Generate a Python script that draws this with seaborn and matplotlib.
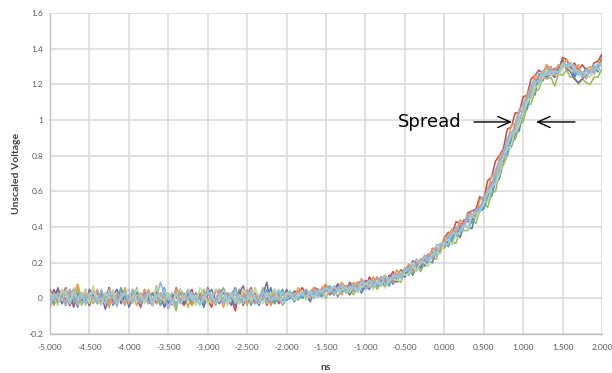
import numpy as np
import pandas as pd
import matplotlib
matplotlib.use("Agg")
import matplotlib.pyplot as plt
import seaborn as sns

# sample times (ns), 0.05 ns step
time_ns = np.round(np.linspace(-5.0, 2.0, 141), 2)

# traces in hundredths of a volt: first 61 samples -5.00..-2.00, then -1.95..2.00
trace_01 = [5,-3,6,-1,3,-4,2,-5,3,0, -4,5,-1,3,-3,6,-4,2,-1,5, -5,0,3,-3,5,-1,-4,3,0,6,
            -3,2,-4,3,-1,5,-3,0,3,-5, 2,5,-1,-3,3,0,-4,6,-1,2, -3,5,0,-4,3,-1,6,-3,2,-1, 3,
            2,-2,4,0,2,-2,4,2,1,6, 2,5,1,5,7,2,5,7,3,7, 5,10,7,10,6,13,10,9,15,12,
            17,13,18,21,18,21,20,27,26,33, 29,34,38,34,41,40,39,48,49,50,
            57,57,66,67,77,86,85,92,94,104, 106,115,114,125,122,128,130,124,128,134,
            128,132,124,128,124,129,126,130,127,136]
trace_02 = [-1,5,-3,2,6,-4,0,3,-1,5, -4,2,3,-3,0,6,-1,-4,3,2, -3,5,0,-5,3,2,-4,5,-1,0,
            3,-3,6,-1,-4,2,5,-3,0,3, -1,-5,5,2,-3,3,0,-7,5,-4, 2,6,-3,0,3,-4,2,5,-3,0, 2,
            0,4,3,6,2,0,6,5,3,7, 6,2,8,6,4,9,6,9,9,5, 12,8,12,7,12,11,15,11,16,14,
            15,21,20,18,24,22,28,27,26,34, 37,36,43,42,41,48,49,50,57,55,
            66,68,77,80,84,95,96,104,104,113, 114,123,125,128,126,131,126,129,128,135,
            134,129,132,128,131,128,127,132,133,137]
trace_03 = [3,-4,2,-1,5,0,-3,6,-4,2, 0,-3,5,-1,3,-5,2,0,5,-3, 2,-1,6,-4,0,3,-3,7,-1,-4,
            3,0,-7,5,2,-5,3,-1,0,5, -3,2,-4,3,6,-1,0,-3,5,2, -4,3,0,-1,6,-3,2,-1,3,-4, 0,
            3,0,-1,3,0,4,0,3,5,0, 5,2,5,2,7,4,2,7,5,9, 6,9,5,9,9,7,13,10,9,15,
            16,14,20,15,20,23,22,22,29,28, 32,31,31,39,38,38,44,42,49,54,
            51,59,60,71,75,80,89,89,97,99, 108,109,116,117,124,123,124,119,126,125,
            128,124,124,120,123,121,120,124,124,129]
trace_04 = [-4,2,5,-3,0,3,-5,2,0,-3, 5,2,-1,3,-6,0,2,5,-3,2, 0,-1,3,-4,2,0,3,-3,2,-5,
            -1,3,0,5,-3,2,-1,3,0,-4, 6,0,-3,2,5,-1,0,-4,3,7, -1,0,3,-3,2,9,-4,2,3,-1, 5,
            1,4,0,3,4,1,6,1,4,6, 2,5,8,4,5,2,8,7,5,10, 9,6,9,12,9,12,8,13,15,12,
            19,16,20,17,22,25,22,26,30,30, 32,37,35,40,44,43,43,50,50,55,
            57,65,66,77,79,87,88,98,101,104, 113,115,123,121,126,124,126,124,128,131,
            129,127,123,121,123,125,128,126,130,134]
trace_05 = [2,-3,0,3,-4,5,-1,2,3,-3, 0,5,-3,2,0,-4,3,-1,6,0, -3,2,5,-1,0,-3,3,2,-4,3,
            0,-1,5,-3,2,3,-4,0,2,-3, 3,0,-1,5,-3,0,2,6,-3,0, 3,-4,2,0,-1,5,0,-3,2,5, -1,
            0,3,3,0,5,2,2,5,1,5, 7,2,5,7,4,8,4,6,9,6, 10,8,7,12,11,7,13,12,12,17,
            13,19,18,22,19,23,26,25,31,29, 35,32,37,37,42,45,42,47,52,50,
            57,59,69,72,80,81,90,97,98,106, 107,115,117,126,125,125,129,125,131,130,
            130,132,126,128,126,129,126,130,129,132]
trace_06 = [0,3,-1,5,-4,2,2,8,0,3, -1,5,-3,0,2,-4,3,0,-1,6, -3,2,-4,3,0,5,-1,-3,3,0,
            2,-3,5,-1,3,0,-4,2,3,-1, 5,-3,0,2,-5,3,2,-1,0,3, -3,5,2,-1,0,3,-4,3,0,2, 3,
            4,1,6,3,1,4,6,1,6,8, 3,6,5,9,6,4,9,6,11,8, 8,12,8,11,13,10,12,16,12,16,
            19,18,16,22,23,21,28,28,28,34, 35,39,37,44,42,47,47,47,55,57,
            59,69,70,79,83,87,97,98,106,108, 115,117,125,124,125,131,126,128,131,130,
            134,131,128,131,125,128,130,127,132,135]
trace_07 = [-5,0,3,2,-3,5,0,-4,2,3, -1,0,5,-3,2,-1,-3,3,0,-4, 2,3,0,-1,5,-3,-1,0,3,-3,
            2,-4,3,0,-1,5,2,-3,0,3, -1,2,-3,5,0,-3,3,2,-1,0, 5,-1,-3,2,0,3,-1,5,0,-3, 2,
            2,0,4,2,5,0,4,2,6,4, 3,6,5,2,7,6,4,9,7,8, 6,9,12,8,10,12,9,13,12,16,
            16,15,20,20,20,25,22,28,28,30, 36,36,37,42,40,45,49,48,52,53,
            62,63,70,73,83,87,91,98,104,106, 112,116,123,124,123,127,130,125,125,131,
            129,131,131,126,126,123,128,126,132,131]
trace_08 = [3,0,-4,5,2,-3,6,-1,0,5, -3,7,-1,-4,3,0,5,-5,2,3, -1,0,5,2,-3,3,-4,6,0,-1,
            3,-3,2,5,-1,0,3,-4,6,2, -3,0,5,-1,2,-4,3,0,-3,5, 2,-1,6,0,-3,3,2,5,-1,0, 3,
            2,-1,1,4,-1,2,1,4,4,1, 6,3,2,5,6,3,8,3,6,8, 8,5,10,8,6,11,11,10,15,13,
            14,18,15,21,20,18,25,26,25,31, 33,30,36,37,41,39,46,45,49,54,
            54,62,65,69,80,84,86,95,97,104, 110,112,118,120,124,128,125,126,125,129,
            131,128,127,128,124,126,124,127,132,130]
trace_09 = [2,-1,3,0,-4,2,5,-3,2,-1, 3,0,-3,5,-1,2,0,-4,3,2, -1,5,0,-3,2,3,-1,0,9,2,
            -6,0,-4,3,2,-1,3,0,-3,2, 5,-1,0,3,-3,2,-1,5,0,-3, 2,3,-1,0,5,-3,2,0,-1,3, 0,
            1,3,0,3,5,1,5,1,4,5, 6,3,6,8,3,5,8,5,10,5, 8,10,8,12,8,11,11,14,12,17,
            15,19,22,19,24,23,23,30,30,31, 35,35,40,38,42,47,45,50,50,57,
            60,63,72,77,81,90,93,95,105,109, 112,120,122,121,126,126,129,126,127,132,
            131,132,127,128,124,128,127,127,131,132]
trace_10 = [-3,3,0,-1,5,-3,2,0,3,-4, 2,3,-1,0,-3,5,2,-3,0,3, 5,-3,2,0,-1,3,-4,2,0,5,
            -1,3,2,-3,0,5,-1,2,-4,0, 3,2,-3,0,5,-1,3,-3,2,0, -1,5,0,-3,3,2,-1,0,5,-3, 2,
            4,-1,3,2,1,4,0,4,4,6, 4,7,4,7,3,6,6,4,9,8, 10,7,9,7,13,9,13,12,11,15,
            17,20,16,19,23,21,25,24,31,31, 30,37,36,37,41,40,46,48,49,53,
            59,62,65,76,78,86,92,93,101,105, 111,113,121,122,128,125,127,127,127,132,
            130,131,130,125,127,126,126,131,128,133]

traces = [trace_01, trace_02, trace_03, trace_04, trace_05,
          trace_06, trace_07, trace_08, trace_09, trace_10]
trace_colors = ["#4F81BD", "#C0504D", "#9BBB59", "#8064A2", "#4BACC6",
                "#F79646", "#D99694", "#C3D69B", "#95B3D7", "#93CDDD"]

x_ticks = [-5.0, -4.5, -4.0, -3.5, -3.0, -2.5, -2.0, -1.5, -1.0, -0.5, 0.0, 0.5, 1.0, 1.5, 2.0]
y_ticks = [-0.2, 0.0, 0.2, 0.4, 0.6, 0.8, 1.0, 1.2, 1.4, 1.6]
y_tick_labels = ["-0.2", "0", "0.2", "0.4", "0.6", "0.8", "1", "1.2", "1.4", "1.6"]

rows = []
for i, tr in enumerate(traces):
    for t, v in zip(time_ns, tr):
        rows.append({"ns": t, "V": v / 100.0, "trace": f"T{i+1:02d}"})
df = pd.DataFrame(rows)

sns.set_style("white")
plt.rcParams["font.family"] = ["Lato", "DejaVu Sans"]

fig = plt.figure(figsize=(6.12, 3.73), dpi=100)
ax = fig.add_axes([50/612, 39/373, 552/612, 321/373])

sns.lineplot(data=df, x="ns", y="V", hue="trace", palette=trace_colors,
             estimator=None, legend=False, linewidth=1.15, ax=ax, zorder=3)

ax.set_xlim(-5.0, 2.0)
ax.set_ylim(-0.2, 1.6)
ax.set_xticks(x_ticks)
ax.set_xticklabels([f"{v:.3f}" for v in x_ticks])
ax.set_yticks(y_ticks)
ax.set_yticklabels(y_tick_labels)
ax.grid(True, color="#D9D9D9", linewidth=1.1, zorder=0)
ax.set_axisbelow(True)
for s in ["top", "right"]:
    ax.spines[s].set_visible(False)
for s in ["left", "bottom"]:
    ax.spines[s].set_color("#BFBFBF")
    ax.spines[s].set_linewidth(1.0)
ax.tick_params(axis="both", length=0, labelsize=6, labelcolor="#595959")
ax.tick_params(axis="x", pad=7)
ax.tick_params(axis="y", pad=5)

ax.set_xlabel("ns", fontsize=7.5, fontweight="bold", color="#404040", labelpad=9)
ax.set_ylabel("Unscaled Voltage", fontsize=7.5, fontweight="bold", color="#404040", labelpad=5)

ax.text(-0.587, 0.96, "Spread", fontsize=13, family="DejaVu Sans",
        ha="left", va="baseline", color="black", zorder=5)
ax.annotate("", xy=(0.858, 0.989), xytext=(0.377, 0.989),
            arrowprops=dict(arrowstyle="->,head_length=0.9,head_width=0.4", lw=1.0,
                            color="black", shrinkA=0, shrinkB=0), zorder=5)
ax.annotate("", xy=(1.163, 0.989), xytext=(1.657, 0.989),
            arrowprops=dict(arrowstyle="->,head_length=0.9,head_width=0.4", lw=1.0,
                            color="black", shrinkA=0, shrinkB=0), zorder=5)

fig.savefig("out.png", dpi=100)
